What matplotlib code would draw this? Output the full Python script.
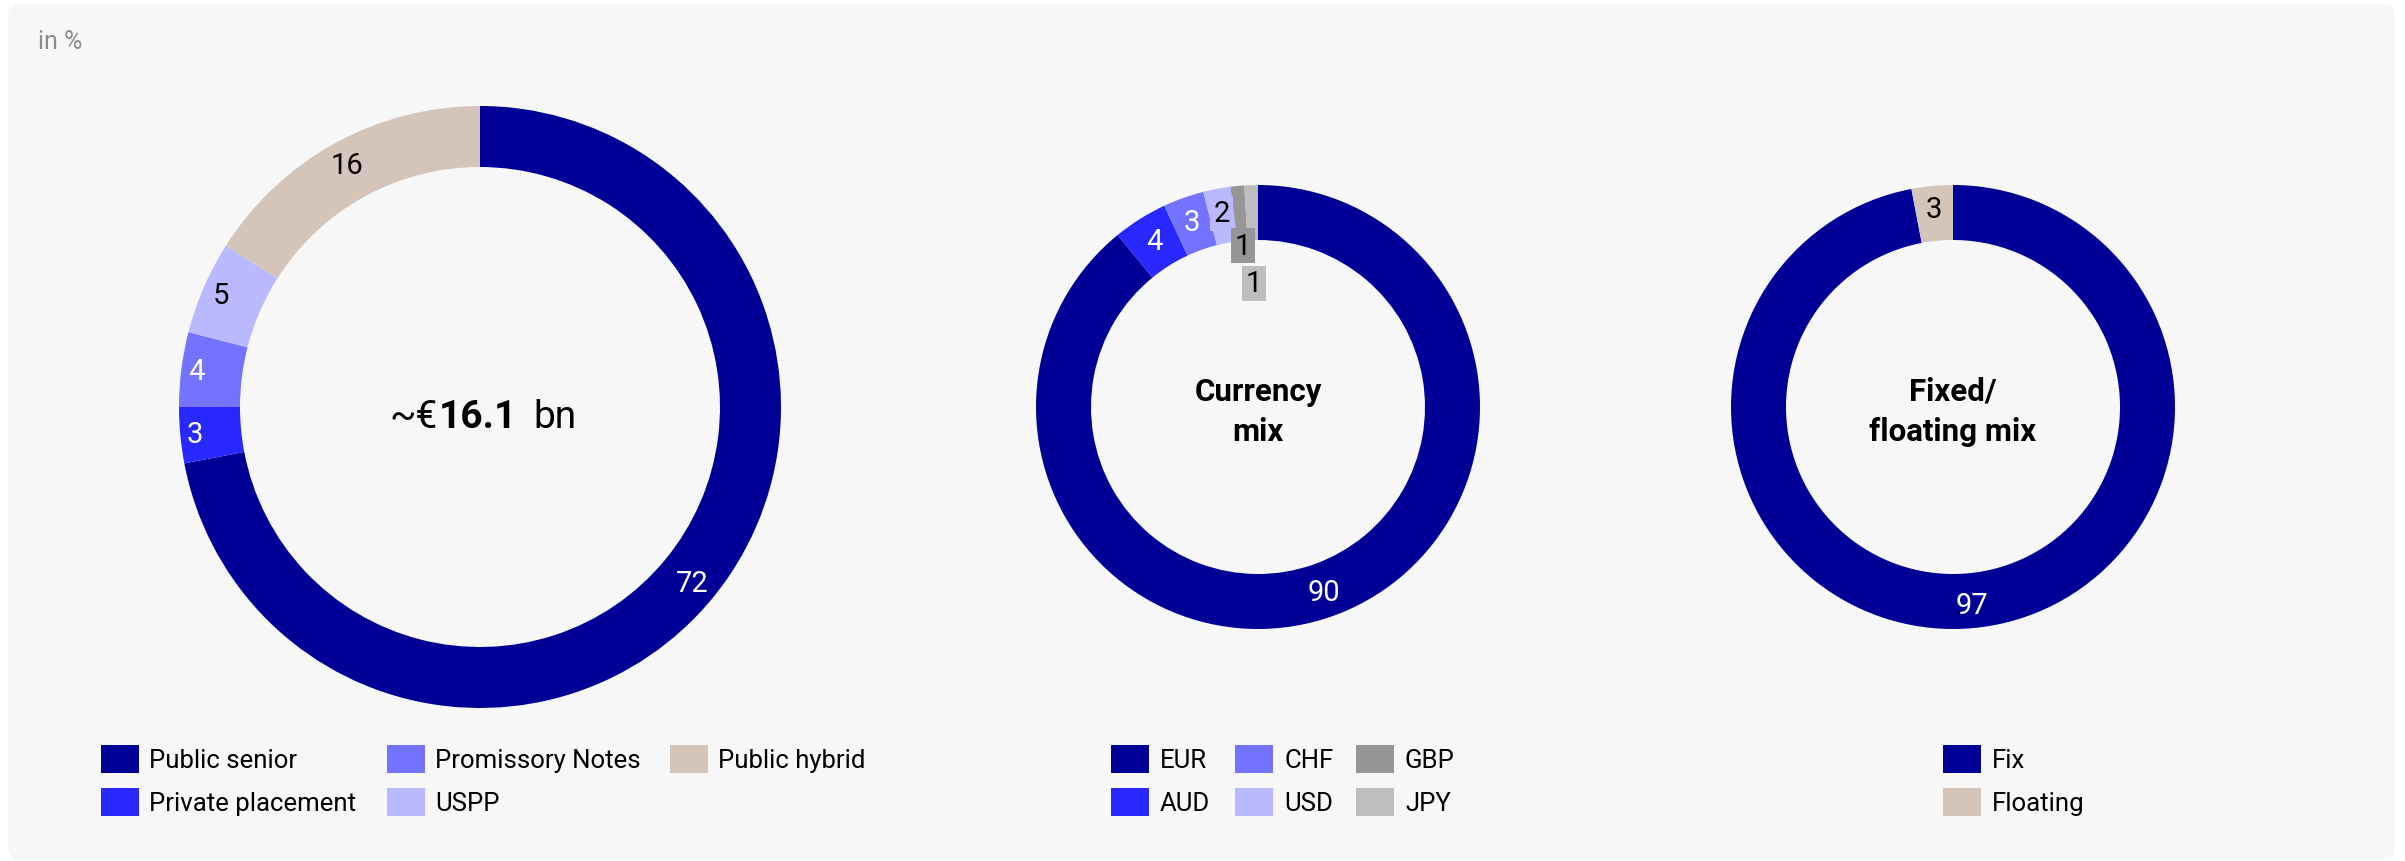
import matplotlib.pyplot as plt
from matplotlib.patches import FancyBboxPatch, Rectangle
import numpy as np

plt.rcParams['font.family'] = ['Roboto', 'DejaVu Sans']

# instrument mix
instr_labels = ['Public senior', 'Private placement', 'Promissory Notes', 'USPP', 'Public hybrid']
instr_values = [72, 3, 4, 5, 16]
instr_colors = ['#000096', '#2828FF', '#7373FF', '#B9B9FF', '#D5C4BA']

# currency mix
cur_labels = ['EUR', 'AUD', 'CHF', 'USD', 'GBP', 'JPY']
cur_values = [90, 4, 3, 2, 1, 1]
cur_colors = ['#000096', '#2828FF', '#7373FF', '#B9B9FF', '#969696', '#BEBEBE']

# fixed / floating mix
fix_labels = ['Fix', 'Floating']
fix_values = [97, 3]
fix_colors = ['#000096', '#D5C4BA']

W, H = 2405, 862
fig = plt.figure(figsize=(W / 100, H / 100), dpi=100)
ax = fig.add_axes([0, 0, 1, 1])


def Y(y):
    return H - y


ax.add_patch(FancyBboxPatch((8, Y(860)), 2387, 855,
                            boxstyle='round,pad=0,rounding_size=12',
                            fc='#F7F7F7', ec='none', zorder=0))
ax.text(38, Y(42), 'in %', fontsize=18, color='#8C8C8C', va='center', ha='left')

dark = {'#000096', '#2828FF', '#7373FF'}


def donut(values, colors, cx, cy, r, w, label_r, fs=21, special=None):
    wedges, _ = ax.pie(values, colors=colors, startangle=90, counterclock=False,
                       radius=r, center=(cx, Y(cy)),
                       wedgeprops=dict(width=w, linewidth=0))
    special = special or {}
    for i, (wd, v, c) in enumerate(zip(wedges, values, colors)):
        ang = np.deg2rad((wd.theta1 + wd.theta2) / 2)
        rr, box = special.get(i, (label_r, False))
        x = cx + rr * np.cos(ang)
        y = Y(cy) + rr * np.sin(ang)
        kw = {}
        if box:
            kw['bbox'] = dict(boxstyle='square,pad=0.12', fc=c, ec='none')
        ax.text(x, y, str(v), ha='center', va='center', fontsize=fs,
                color='white' if c in dark else 'black', zorder=5, **kw)
    return wedges


donut(instr_values, instr_colors, 480, 408, 301, 61, 276,
      special={1: (286, False), 2: (286, False), 3: (282, False)})
donut(cur_values, cur_colors, 1258, 408, 222, 55, 196,
      special={3: (197, True), 4: (162, True), 5: (124, True)})
donut(fix_values, fix_colors, 1953, 408, 222, 55, 199)

# centre captions
t16 = ax.text(478, Y(428), '16.1', fontsize=28, fontweight='bold',
              ha='center', va='baseline')
ax.annotate('~€', xy=(0, 0), xycoords=t16, xytext=(-1, 0),
            textcoords='offset points', ha='right', va='bottom', fontsize=28)
ax.annotate('bn', xy=(1, 0), xycoords=t16, xytext=(12, 0),
            textcoords='offset points', ha='left', va='bottom', fontsize=28)
ax.text(1258, Y(412), 'Currency\nmix', fontsize=22.5, fontweight='bold',
        ha='center', va='center', linespacing=1.45)
ax.text(1953, Y(412), 'Fixed/\nfloating mix', fontsize=22.5, fontweight='bold',
        ha='center', va='center', linespacing=1.45)


def legend(labels, colors, cols_x, rows_y, text_gap):
    for i, (lab, c) in enumerate(zip(labels, colors)):
        x = cols_x[i // 2]
        y = rows_y[i % 2]
        ax.add_patch(Rectangle((x, Y(y + 14)), 38, 28, fc=c, ec='none'))
        ax.text(x + 38 + text_gap, Y(y + 1), lab, fontsize=18.5, ha='left', va='center')


rows = [760, 803]
legend(instr_labels, instr_colors, [101, 387, 670], rows, 10)
legend(cur_labels, cur_colors, [1111, 1235, 1356], rows, 11)
legend(fix_labels, fix_colors, [1943], rows, 11)

ax.set_xlim(0, W)
ax.set_ylim(0, H)
ax.set_aspect('auto')
ax.axis('off')
fig.savefig('out.png', dpi=100, facecolor='white')
